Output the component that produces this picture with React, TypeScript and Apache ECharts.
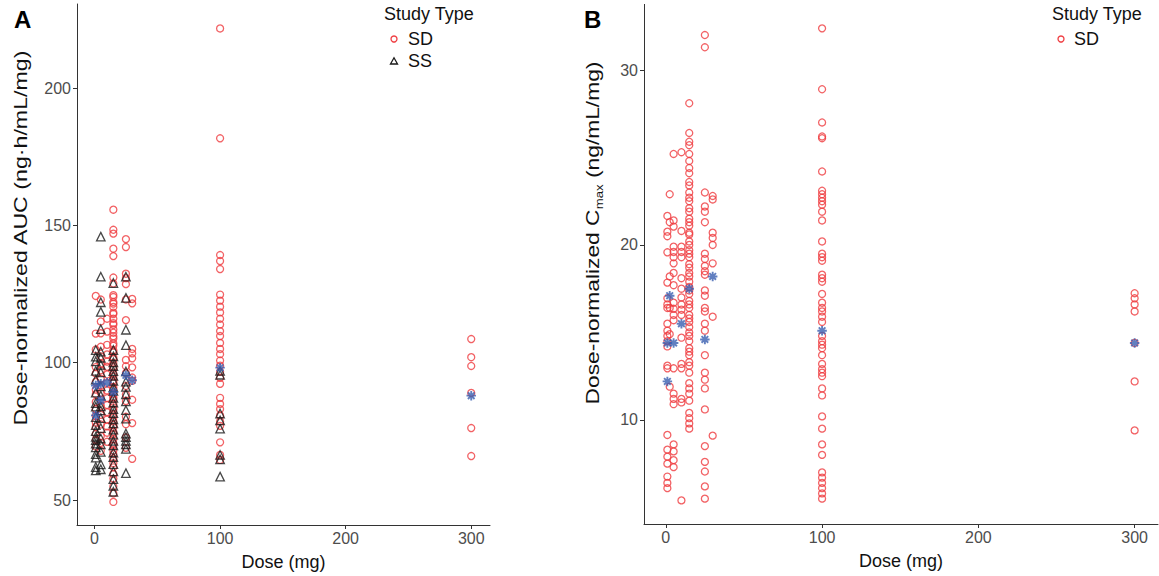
import React, { useEffect, useRef } from "react";
import * as echarts from "echarts";

// ---------- Panel A: dose-normalized AUC ----------
const xTicks = [0, 100, 200, 300];
const aucTicks = [50, 100, 150, 200];
const cmaxTicks = [10, 20, 30];

const aucSD_d1 = [124.3, 110.6, 104.8, 98.4, 96.1, 93.0, 90.2, 88.5, 85.7, 83.1, 80.6, 78.2, 76.6, 74.0, 71.9, 69.5];
const aucSD_d5 = [123.0, 115.0, 110.7, 105.8, 102.3, 99.6, 97.2, 94.1, 91.8, 89.0, 86.4, 84.2, 81.0, 77.5, 73.3, 70.8, 67.9];
const aucSD_d10 = [116.0, 111.3, 106.5, 103.0, 100.4, 98.5, 95.7, 92.6, 89.9, 87.1, 84.6, 82.0, 79.3, 76.8, 74.5, 71.2];
const aucSD_d15 = [155.7, 148.4, 147.0, 141.5, 138.8, 131.0, 128.8, 124.6, 123.9, 122.1, 121.5, 120.3, 118.2, 117.7, 116.0, 114.4, 113.8, 112.1, 110.9, 109.6, 108.8, 107.0, 106.2, 104.5, 103.9, 102.0, 101.3, 99.8, 98.6, 97.9, 96.1, 95.0, 93.6, 92.8, 91.1, 90.3, 88.7, 87.4, 86.8, 85.0, 83.7, 82.9, 81.2, 80.0, 78.6, 77.3, 76.5, 74.8, 73.9, 72.1, 70.6, 69.8, 68.0, 66.7, 65.1, 63.4, 61.9, 59.5, 57.8, 55.0, 52.4, 49.3];
const aucSD_d25 = [145.0, 142.1, 132.4, 130.8, 128.6, 123.0, 115.5, 101.0, 98.7, 96.2, 91.5, 88.4, 86.0, 80.3, 77.6, 72.8, 69.0];
const aucSD_d30 = [123.2, 121.6, 105.0, 103.4, 101.6, 98.3, 94.6, 93.4, 86.5, 78.0, 65.0];
const aucSD_d100 = [221.7, 181.7, 139.2, 137.0, 134.1, 124.8, 122.6, 120.4, 118.3, 116.0, 113.9, 111.5, 109.7, 107.2, 105.0, 103.1, 100.8, 98.9, 96.7, 94.5, 92.3, 87.2, 85.0, 83.1, 80.8, 78.6, 77.0, 71.0, 66.4, 64.6];
const aucSD_d300 = [108.6, 102.0, 98.8, 89.0, 76.2, 66.0];

const aucSS_d1 = [104.6, 102.2, 100.5, 97.0, 93.8, 89.1, 85.3, 84.0, 80.2, 77.3, 75.1, 73.0, 71.8, 70.5, 69.2, 66.7, 65.4, 62.0, 60.8];
const aucSS_d5 = [145.9, 131.3, 122.0, 118.5, 112.2, 104.0, 101.8, 99.2, 96.5, 91.4, 88.0, 84.1, 82.6, 79.8, 76.2, 72.4, 70.3, 67.5, 63.0, 61.2];
const aucSS_d15 = [129.0, 104.6, 102.3, 100.1, 98.8, 96.9, 95.2, 93.4, 91.0, 89.7, 87.2, 85.5, 83.1, 81.6, 79.4, 77.9, 75.6, 73.8, 71.5, 69.9, 67.3, 65.6, 63.1, 60.4, 57.6, 55.2, 53.0];
const aucSS_d25 = [131.3, 123.6, 112.0, 106.4, 96.8, 93.1, 91.2, 88.5, 85.9, 82.7, 79.6, 74.2, 72.9, 71.5, 70.3, 68.6, 59.8];
const aucSS_d100 = [97.0, 95.6, 81.5, 79.0, 76.0, 66.4, 64.8, 58.5];

const aucMeanDose = [1, 1, 5, 5, 10, 15, 25, 30, 100, 300];
const aucMeanValue = [91.7, 80.8, 92.3, 86.3, 92.8, 89.3, 95.4, 93.6, 98.2, 88.0];

// ---------- Panel B: dose-normalized Cmax ----------
const cmaxSD_d1 = [21.66, 20.76, 20.5, 19.58, 17.85, 16.95, 16.6, 16.4, 15.5, 15.1, 14.8, 14.5, 14.2, 13.1, 12.95, 9.14, 8.3, 7.9, 7.5, 6.76, 6.4, 6.1];
const cmaxSD_d2_5 = [22.9, 21.3, 18.2, 16.4, 14.9, 11.9];
const cmaxSD_d5 = [25.2, 21.4, 21.05, 19.9, 19.6, 19.3, 18.95, 18.4, 17.7, 16.7, 16.35, 16.0, 15.7, 12.95, 11.5, 11.2, 10.9, 8.6, 8.2, 7.7, 7.3];
const cmaxSD_d10 = [25.3, 20.8, 19.9, 19.6, 19.3, 18.1, 17.5, 17.0, 16.6, 16.3, 16.0, 14.7, 13.2, 12.95, 11.2, 11.0, 5.4];
const cmaxSD_d15 = [28.1, 26.4, 25.9, 25.7, 25.2, 24.8, 24.4, 24.1, 23.6, 23.4, 23.0, 22.7, 22.5, 22.1, 21.9, 21.5, 21.3, 21.1, 20.7, 20.6, 20.2, 20.0, 19.7, 19.5, 19.3, 18.9, 18.7, 18.4, 18.2, 17.9, 17.6, 17.4, 17.2, 16.8, 16.6, 16.4, 16.0, 15.8, 15.6, 15.3, 15.0, 14.8, 14.5, 14.1, 13.9, 13.7, 13.3, 13.1, 12.7, 12.1, 11.8, 11.5, 11.1, 10.4, 10.1, 9.8, 9.5];
const cmaxSD_d25 = [32.0, 31.3, 23.0, 22.2, 21.9, 21.3, 19.5, 19.2, 18.8, 18.5, 18.3, 17.4, 17.1, 16.4, 16.2, 15.5, 15.1, 13.7, 12.7, 12.3, 11.8, 10.6, 8.5, 7.6, 7.05, 6.2, 5.5];
const cmaxSD_d30 = [22.8, 22.6, 20.7, 20.4, 20.0, 18.95, 15.9, 9.1];
const cmaxSD_d100 = [32.38, 28.9, 27.0, 26.2, 26.1, 24.2, 23.1, 22.9, 22.7, 22.5, 22.3, 21.9, 21.4, 20.2, 19.5, 19.3, 19.1, 18.3, 18.1, 17.9, 17.2, 16.7, 16.4, 16.2, 15.9, 15.6, 14.8, 14.5, 14.3, 14.1, 13.7, 13.2, 12.9, 12.7, 12.5, 11.8, 11.4, 10.2, 9.5, 8.6, 8.0, 7.0, 6.7, 6.4, 6.1, 5.8, 5.5];
const cmaxSD_d300 = [17.24, 16.95, 16.6, 16.2, 14.4, 12.2, 9.4];

const cmaxMeanDose = [1, 1, 2.5, 5, 10, 15, 25, 30, 100, 300];
const cmaxMeanValue = [12.2, 14.4, 17.1, 14.4, 15.5, 17.5, 14.6, 18.2, 15.1, 14.4];

const FONT = "'Liberation Sans', Arial, Helvetica, sans-serif";
const RED = "#ef3b3f";
const BLUE = "#3a5fb0";

const pts = (dose: number, vals: number[]) => vals.map((v) => [dose, v]);

const aucSDData = [
  ...pts(1, aucSD_d1), ...pts(5, aucSD_d5), ...pts(10, aucSD_d10), ...pts(15, aucSD_d15),
  ...pts(25, aucSD_d25), ...pts(30, aucSD_d30), ...pts(100, aucSD_d100), ...pts(300, aucSD_d300),
];
const aucSSData = [
  ...pts(1, aucSS_d1), ...pts(5, aucSS_d5), ...pts(15, aucSS_d15), ...pts(25, aucSS_d25), ...pts(100, aucSS_d100),
];
const aucMeanData = aucMeanDose.map((d, i) => [d, aucMeanValue[i]]);
const cmaxSDData = [
  ...pts(1, cmaxSD_d1), ...pts(2.5, cmaxSD_d2_5), ...pts(5, cmaxSD_d5), ...pts(10, cmaxSD_d10),
  ...pts(15, cmaxSD_d15), ...pts(25, cmaxSD_d25), ...pts(30, cmaxSD_d30), ...pts(100, cmaxSD_d100),
  ...pts(300, cmaxSD_d300),
];
const cmaxMeanData = cmaxMeanDose.map((d, i) => [d, cmaxMeanValue[i]]);

const ASTERISK = "path://M5,0L5,10M0,5L10,5M1.5,1.5L8.5,8.5M1.5,8.5L8.5,1.5";

function xAxis(gridIndex: number) {
  return {
    type: "value",
    gridIndex,
    min: -13.95,
    max: 314.95,
    axisLine: { show: true, onZero: false, lineStyle: { color: "#333", width: 1 } },
    axisTick: { show: true, length: 4, customValues: xTicks, lineStyle: { color: "#333" } },
    axisLabel: { customValues: xTicks, fontSize: 16, color: "#4d4d4d", margin: 5, fontFamily: FONT },
    splitLine: { show: false },
    name: "Dose (mg)",
    nameLocation: "middle",
    nameGap: 28,
    nameTextStyle: { fontSize: 18, color: "#111", fontFamily: FONT },
  };
}

function yAxis(gridIndex: number, min: number, max: number, ticks: number[]) {
  return {
    type: "value",
    gridIndex,
    min,
    max,
    axisLine: { show: true, onZero: false, lineStyle: { color: "#333", width: 1 } },
    axisTick: { show: true, length: 4, customValues: ticks, lineStyle: { color: "#333" } },
    axisLabel: { customValues: ticks, fontSize: 16, color: "#4d4d4d", margin: 6, fontFamily: FONT },
    splitLine: { show: false },
  };
}

const circleStyle = { color: "rgba(0,0,0,0)", borderColor: RED, borderWidth: 1.3 };
const triStyle = { color: "rgba(0,0,0,0)", borderColor: "#1a1a1a", borderWidth: 1.3 };
const starStyle = { color: "rgba(0,0,0,0)", borderColor: BLUE, borderWidth: 1.9 };

export default function App() {
  const ref = useRef<HTMLDivElement>(null);
  useEffect(() => {
    if (!ref.current) return;
    const chart = echarts.init(ref.current, null, { renderer: "svg" });
    const option: any = {
      animation: false,
      backgroundColor: "#fff",
      grid: [
        { left: 77, top: 4, width: 413, height: 521 },
        { left: 644, top: 4.4, width: 514, height: 519.6 },
      ],
      xAxis: [xAxis(0), xAxis(1)],
      yAxis: [yAxis(0, 40.9, 230.6, aucTicks), yAxis(1, 4.05, 33.75, cmaxTicks)],
      series: [
        { type: "scatter", name: "SD", xAxisIndex: 0, yAxisIndex: 0, data: aucSDData, symbol: "circle", symbolSize: 7, itemStyle: circleStyle },
        { type: "scatter", name: "SS", xAxisIndex: 0, yAxisIndex: 0, data: aucSSData, symbol: "triangle", symbolSize: 8.5, itemStyle: triStyle },
        { type: "scatter", name: "Mean A", xAxisIndex: 0, yAxisIndex: 0, data: aucMeanData, symbol: ASTERISK, symbolSize: 9.5, itemStyle: starStyle },
        { type: "scatter", name: "SD ", xAxisIndex: 1, yAxisIndex: 1, data: cmaxSDData, symbol: "circle", symbolSize: 7, itemStyle: circleStyle },
        { type: "scatter", name: "Mean B", xAxisIndex: 1, yAxisIndex: 1, data: cmaxMeanData, symbol: ASTERISK, symbolSize: 9.5, itemStyle: starStyle },
      ],
      graphic: [
        { type: "text", x: 14, y: 19, style: { text: "A", fontSize: 24, fontWeight: "bold", fill: "#000", fontFamily: FONT, verticalAlign: "middle" } },
        { type: "text", x: 584, y: 19, style: { text: "B", fontSize: 24, fontWeight: "bold", fill: "#000", fontFamily: FONT, verticalAlign: "middle" } },
        {
          type: "text", x: 20, y: 238, rotation: Math.PI / 2, scaleX: 1.22,
          style: { text: "Dose-normalized AUC (ng·h/mL/mg)", fontSize: 19, fill: "#111", fontFamily: FONT, align: "center", verticalAlign: "middle" },
        },
        {
          type: "text", x: 592, y: 233, rotation: Math.PI / 2, scaleX: 1.2,
          style: {
            text: "Dose-normalized C{sub|max} (ng/mL/mg)", fontSize: 19, fill: "#111", fontFamily: FONT,
            align: "center", verticalAlign: "middle", lineHeight: 26,
            rich: { sub: { fontSize: 11, fill: "#111", fontFamily: FONT, verticalAlign: "bottom", lineHeight: 12 } },
          },
        },
        // Legend A
        { type: "text", x: 384, y: 14, style: { text: "Study Type", fontSize: 18, fill: "#111", fontFamily: FONT, verticalAlign: "middle" } },
        { type: "circle", shape: { cx: 394, cy: 39, r: 3 }, style: { fill: "none", stroke: RED, lineWidth: 1.3 } },
        { type: "text", x: 408, y: 39, style: { text: "SD", fontSize: 18, fill: "#111", fontFamily: FONT, verticalAlign: "middle" } },
        { type: "polygon", shape: { points: [[390.5, 64], [397.5, 64], [394, 57.8]] }, style: { fill: "none", stroke: "#1a1a1a", lineWidth: 1.3 } },
        { type: "text", x: 408, y: 61, style: { text: "SS", fontSize: 18, fill: "#111", fontFamily: FONT, verticalAlign: "middle" } },
        // Legend B
        { type: "text", x: 1052, y: 14, style: { text: "Study Type", fontSize: 18, fill: "#111", fontFamily: FONT, verticalAlign: "middle" } },
        { type: "circle", shape: { cx: 1061, cy: 39, r: 3 }, style: { fill: "none", stroke: RED, lineWidth: 1.3 } },
        { type: "text", x: 1074, y: 39, style: { text: "SD", fontSize: 18, fill: "#111", fontFamily: FONT, verticalAlign: "middle" } },
      ],
    };
    chart.setOption(option);
    return () => chart.dispose();
  }, []);
  return <div ref={ref} style={{ position: "fixed", left: 0, top: 0, width: 1159, height: 576 }} />;
}
